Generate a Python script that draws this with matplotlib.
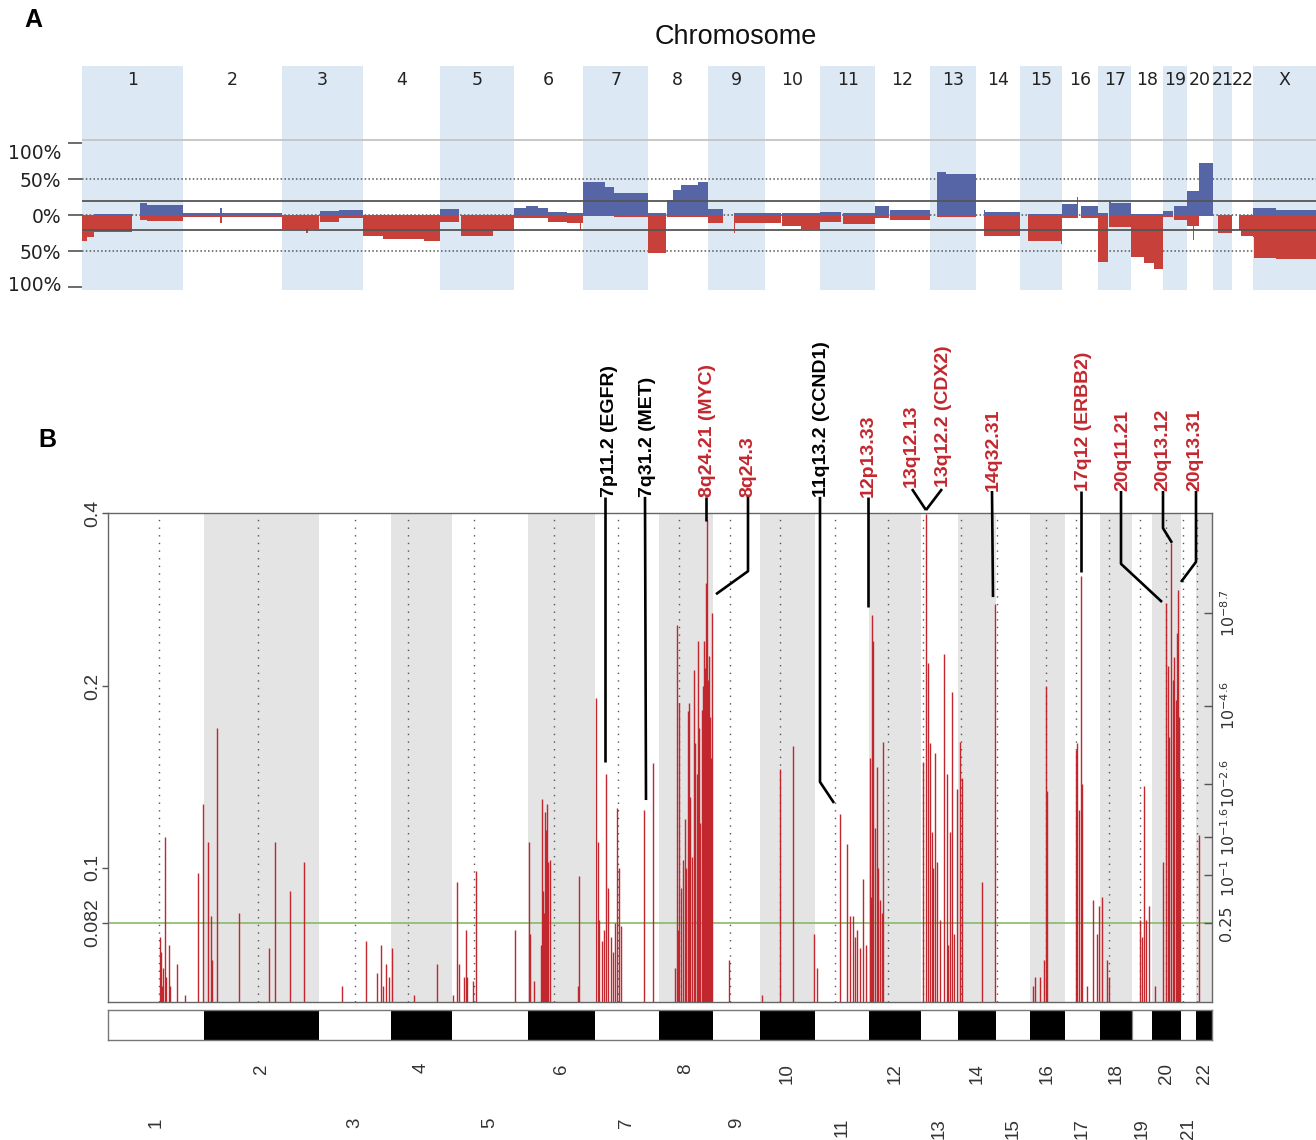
import matplotlib
matplotlib.use('Agg')
import matplotlib.pyplot as plt
import matplotlib.transforms as mtransforms
import numpy as np

plt.rcParams['font.family'] = ['DejaVu Sans']

W, H = 1316, 1140
fig = plt.figure(figsize=(W / 100, H / 100), dpi=100)


def fr(x0, y0, x1, y1):
    return [x0 / W, 1 - y1 / H, (x1 - x0) / W, (y1 - y0) / H]


# ---------------- Panel A data ----------------
chrA_names = [str(i) for i in range(1, 23)] + ['X']
chrA_len = [249, 243, 198, 191, 181, 171, 159, 146, 141, 136, 135, 134, 115,
            107, 103, 90, 81, 78, 59, 63, 48, 51, 155]

segA_chr = [1, 1, 1, 1, 1,
            2, 2, 2,
            3, 3, 3, 3, 3,
            4, 4, 4,
            5, 5, 5,
            6, 6, 6, 6, 6, 6, 6,
            7, 7, 7,
            8, 8, 8, 8, 8,
            9, 9, 9,
            10, 10, 10,
            11, 11,
            12, 12,
            13, 13,
            14, 14,
            15, 15,
            16, 16, 16,
            17, 17, 17,
            18, 18, 18,
            19, 19,
            20, 20, 20, 20,
            21,
            22, 22,
            23, 23, 23]
segA_start = [0, 12, 30, 143, 160,
              0, 90, 96,
              0, 58, 64, 93, 140,
              0, 50, 150,
              0, 50, 130,
              0, 30, 60, 84, 130, 163, 166,
              0, 54, 75,
              0, 47, 60, 80, 123,
              0, 66, 68,
              0, 42, 90,
              0, 55,
              0, 37,
              19, 40,
              19, 22,
              20, 100,
              0, 37, 46,
              0, 25, 32,
              0, 30, 55,
              0, 28,
              0, 14, 16, 30,
              14,
              16, 22,
              0, 3, 56]
segA_end = [12, 30, 124, 160, 249,
            90, 96, 243,
            58, 64, 90, 140, 198,
            50, 150, 191,
            47, 130, 181,
            30, 60, 84, 130, 163, 166, 171,
            54, 75, 159,
            43, 60, 80, 123, 146,
            39, 68, 141,
            40, 90, 136,
            50, 135,
            35, 134,
            40, 115,
            22, 107,
            100, 103,
            37, 39, 90,
            24, 32, 81,
            30, 55, 78,
            25, 59,
            14, 16, 29, 63,
            48,
            22, 51,
            3, 56, 155]
segA_gain = [1, 1, 2, 17, 14,
             3, 10, 4,
             1, 1, 1, 6, 7,
             1, 1, 1,
             9, 1, 1,
             11, 13, 10, 5, 3, 3, 4,
             47, 40, 31,
             3, 21, 35, 42, 47,
             9, 3, 4,
             4, 3, 3,
             5, 4,
             13, 8,
             61, 57,
             8, 5,
             2, 2,
             16, 26, 13,
             3, 20, 17,
             2, 2, 2,
             6, 13,
             34, 34, 34, 73,
             0,
             1, 1,
             11, 11, 8]
segA_loss = [-36, -30, -23, -6, -8,
             -2, -10, -2,
             -19, -25, -19, -9, -4,
             -29, -32, -35,
             -9, -28, -22,
             -3, -4, -4, -9, -10, -22, -10,
             -1, -1, -2,
             -52, -2, -2, -2, -2,
             -10, -25, -10,
             -10, -15, -19,
             -9, -12,
             -3, -6,
             -2, -2,
             -28, -28,
             -36, -40,
             -3, -3, -3,
             -64, -16, -16,
             -58, -66, -75,
             -2, -6,
             -15, -34, -15, -1,
             -24,
             -20, -29,
             -30, -59, -60]
yticksA = [-100, -50, 0, 50, 100]
yticklabelsA = ['100%', '50%', '0%', '50%', '100%']

# ---------------- Panel B data ----------------
chrB_names = [str(i) for i in range(1, 23)]
chrB_width = [96, 115, 72, 61, 76, 67, 64, 54, 47, 55, 54, 52, 37, 38, 34, 35,
              35, 32, 20, 29, 15, 16]
chrB_centromere = [51, 150, 247, 300, 366, 446, 510, 571, 622, 672, 727, 780,
                   815, 853, 889, 938, 968, 1000.5, 1032, 1058, 1075, 1089]

spike_pos = [52, 53, 54, 55, 57, 58, 61, 62, 69, 77, 90, 95,
             100, 103, 104, 109, 131, 161, 167, 182, 196,
             234, 258, 269, 273, 275, 278, 281,
             284, 306, 329,
             345, 349, 351, 356, 358, 359, 365, 368, 407,
             421, 422, 426, 433, 434, 435, 436, 437, 438, 439, 440, 442, 470, 471,
             488, 490, 491, 494, 496, 498, 500, 503, 505, 507, 509, 511, 513, 536, 545,
             567, 569, 570, 571, 573, 575, 577, 578, 580, 581, 582, 584, 586, 587,
             589, 590, 591, 592, 594, 595, 596, 597, 598, 599, 600, 601, 602, 603, 604,
             621,
             654, 672, 685, 706,
             709, 732, 739, 742, 745, 747, 749, 752, 755, 758,
             762, 763, 764, 765, 767, 769, 770, 772, 774, 775,
             815, 818, 820, 822, 824, 825, 827, 829, 832, 836, 839, 840, 842, 844, 846, 849,
             852, 854, 874, 887,
             925, 927, 932, 936, 938, 939,
             968, 969, 971, 973, 974, 979, 985, 989, 991,
             994, 999, 1001,
             1032, 1034, 1036, 1038, 1041,
             1047, 1055, 1058, 1060, 1061, 1063, 1065, 1066, 1068, 1069, 1070, 1071, 1072,
             1091]
spike_val = [0.078, 0.074, 0.066, 0.070, 0.112, 0.068, 0.076, 0.066, 0.071, 0.064, 0.098, 0.127,
             0.110, 0.084, 0.072, 0.170, 0.085, 0.075, 0.110, 0.092, 0.102,
             0.066, 0.077, 0.069, 0.076, 0.066, 0.071, 0.068,
             0.075, 0.064, 0.071,
             0.064, 0.095, 0.071, 0.068, 0.080, 0.068, 0.067, 0.099, 0.080,
             0.110, 0.079, 0.067, 0.076, 0.129, 0.092, 0.085, 0.123, 0.115, 0.127, 0.102, 0.103, 0.066, 0.097,
             0.191, 0.110, 0.083, 0.077, 0.080, 0.142, 0.093, 0.078, 0.074, 0.082, 0.125, 0.100, 0.081, 0.124, 0.148,
             0.070, 0.255, 0.080, 0.187, 0.093, 0.103, 0.120, 0.100, 0.181, 0.187, 0.130, 0.104, 0.213, 0.160,
             0.142, 0.239, 0.170, 0.118, 0.182, 0.200, 0.239, 0.215, 0.301, 0.389, 0.205, 0.225, 0.177, 0.151, 0.267,
             0.072,
             0.064, 0.145, 0.158, 0.079,
             0.070, 0.122, 0.109, 0.084, 0.084, 0.078, 0.080, 0.075, 0.096, 0.076,
             0.151, 0.090, 0.265, 0.239, 0.116, 0.146, 0.100, 0.089, 0.085, 0.161,
             0.149, 0.398, 0.219, 0.160, 0.114, 0.100, 0.154, 0.102, 0.083, 0.227, 0.142, 0.076, 0.114, 0.195, 0.079, 0.134,
             0.161, 0.140, 0.095, 0.277,
             0.066, 0.068, 0.068, 0.072, 0.200, 0.133,
             0.156, 0.160, 0.124, 0.310, 0.137, 0.066, 0.089, 0.079, 0.087,
             0.090, 0.072, 0.068,
             0.083, 0.078, 0.136, 0.083, 0.087,
             0.066, 0.102, 0.278, 0.216, 0.164, 0.354, 0.205, 0.224, 0.189, 0.247, 0.293, 0.177, 0.140,
             0.113]

threshold = 0.082
yticksB = [0.4, 0.2, 0.1, 0.082]
yticklabelsB = ['0.4', '0.2', '0.1', '0.082']
qticks = [0.267, 0.185, 0.137, 0.112, 0.0975, 0.082]
qticklabels = [r'$10^{-8.7}$', r'$10^{-4.6}$', r'$10^{-2.6}$', r'$10^{-1.6}$',
               r'$10^{-1}$', '0.25']

ann_text = ['7p11.2 (EGFR)', '7q31.2 (MET)', '8q24.21 (MYC)', '8q24.3',
            '11q13.2 (CCND1)', '12p13.33', '13q12.13', '13q12.2 (CDX2)',
            '14q32.31', '17q12 (ERBB2)', '20q11.21', '20q13.12', '20q13.31']
ann_is_red = [False, False, True, True, False, True, True, True, True, True,
              True, True, True]
ann_text_x = [501, 539, 600, 640, 714, 760, 803, 836, 885, 975, 1015, 1055, 1087]
ann_text_y = [1.033] * 6 + [1.053, 1.053] + [1.045] * 5
ann_path_x = [[497, 497], [537, 538], [598, 598], [640, 640, 608], [712, 712, 726],
              [760, 760], [804, 818], [834, 818], [884, 885], [973, 973],
              [1013, 1013, 1054], [1055, 1055, 1064], [1088, 1088, 1073]]
ann_path_y = [[1.033, 0.491], [1.033, 0.413], [1.033, 0.984], [1.033, 0.881, 0.834],
              [1.033, 0.450, 0.407], [1.033, 0.808], [1.049, 1.006], [1.049, 1.006],
              [1.045, 0.828], [1.045, 0.879], [1.045, 0.896, 0.818],
              [1.045, 0.969, 0.939], [1.045, 0.900, 0.859]]

RED = '#c3272e'
GAIN = '#5565a6'
LOSS = '#c8403a'
SANS = ['Liberation Sans', 'DejaVu Sans']

# ================= Panel A =================
axA = fig.add_axes(fr(82, 66, 1316, 290))
startsA = np.concatenate([[0], np.cumsum(chrA_len)[:-1]])
totalA = float(np.sum(chrA_len))
axA.set_xlim(0, totalA)
axA.set_ylim(-103.5, 207.6)
for i, (s, L) in enumerate(zip(startsA, chrA_len)):
    if i % 2 == 0:
        axA.axvspan(s, s + L, color='#dde8f5', lw=0, zorder=0)
    axA.text(s + L / 2, 188, chrA_names[i], ha='center', va='center',
             fontsize=12.5, color='#222')

seg_left = [startsA[c - 1] + s for c, s in zip(segA_chr, segA_start)]
seg_w = [e - s for s, e in zip(segA_start, segA_end)]
axA.bar(seg_left, segA_gain, width=seg_w, align='edge', color=GAIN, lw=0, zorder=3)
axA.bar(seg_left, segA_loss, width=seg_w, align='edge', color=LOSS, lw=0, zorder=3)

axA.axhline(105, color='#c4c4c4', lw=1.3, zorder=2)
for yv in (20, -20):
    axA.axhline(yv, color='#555555', lw=1.3, zorder=4)
for yv in (50, -50, 0):
    axA.axhline(yv, color='#555555', lw=1.1, ls=(0, (1, 1.5)), zorder=2)

for sp in axA.spines.values():
    sp.set_visible(False)
axA.set_xticks([])
axA.set_yticks(yticksA)
axA.set_yticklabels(yticklabelsA, fontsize=13.5, color='#222')
axA.tick_params(axis='y', length=10, width=1.1, color='#444', pad=5)
labs = axA.get_yticklabels()
labs[4].set_transform(labs[4].get_transform() +
                      mtransforms.ScaledTranslation(0, -8 / 100, fig.dpi_scale_trans))
labs[0].set_transform(labs[0].get_transform() +
                      mtransforms.ScaledTranslation(0, 4 / 100, fig.dpi_scale_trans))

fig.text(736 / W, 1 - 37 / H, 'Chromosome', ha='center', va='center',
         fontsize=19.5, family=SANS, color='#111')
fig.text(33 / W, 1 - 20 / H, 'A', ha='center', va='center', fontsize=18,
         fontweight='bold', family=SANS)
fig.text(47 / W, 1 - 440 / H, 'B', ha='center', va='center', fontsize=18,
         fontweight='bold', family=SANS)


# ================= Panel B =================
def fwd(v):
    return np.log10(np.maximum(np.asarray(v, dtype=float) - 0.013, 1e-6))


def inv(u):
    return 10 ** np.asarray(u, dtype=float) + 0.013


axB = fig.add_axes(fr(108, 513, 1212, 1002))
startsB = np.concatenate([[0], np.cumsum(chrB_width)[:-1]])
totalB = float(np.sum(chrB_width))
axB.set_xlim(0, totalB)
axB.set_yscale('function', functions=(fwd, inv))
axB.set_ylim(0.0625, 0.4)
for i, (s, L) in enumerate(zip(startsB, chrB_width)):
    if i % 2 == 1:
        axB.axvspan(s, s + L, color='#e4e4e4', lw=0, zorder=0)
for c in chrB_centromere:
    axB.axvline(c, color='#555555', lw=1.0, ls=(0, (1, 4.5)), zorder=1)
axB.axhline(threshold, color='#86ba6a', lw=1.2, zorder=2)
axB.vlines(spike_pos, 0.0625, spike_val, color=RED, lw=1.0, zorder=3)

axB.set_xticks([])
axB.set_yticks(yticksB)
axB.set_yticklabels(yticklabelsB, fontsize=14, color='#333', family=SANS)
axB.yaxis.set_minor_locator(matplotlib.ticker.NullLocator())
axB.tick_params(axis='y', length=4, width=1, color='#555', pad=0.5)
for lab in axB.get_yticklabels():
    lab.set_rotation(90)
    lab.set_va('center')
    lab.set_ha('right')
for sp in axB.spines.values():
    sp.set_color('#666666')
    sp.set_linewidth(1.0)

axR = axB.twinx()
axR.set_yscale('function', functions=(fwd, inv))
axR.set_ylim(0.0625, 0.4)
axR.set_yticks(qticks)
axR.set_yticklabels(qticklabels, fontsize=11.5, color='#333')
axR.yaxis.set_minor_locator(matplotlib.ticker.NullLocator())
axR.tick_params(axis='y', direction='in', length=6, width=1, color='#555', pad=5)
rlabs = axR.get_yticklabels()
for lab in rlabs:
    lab.set_rotation(90)
    lab.set_va('center')
    lab.set_ha('left')
rlabs[3].set_transform(rlabs[3].get_transform() +
                       mtransforms.ScaledTranslation(0, 6 / 100, fig.dpi_scale_trans))
rlabs[4].set_transform(rlabs[4].get_transform() +
                       mtransforms.ScaledTranslation(0, -3 / 100, fig.dpi_scale_trans))
for sp in axR.spines.values():
    sp.set_visible(False)

trB = mtransforms.blended_transform_factory(axB.transData, axB.transAxes)
for t, red, tx, ty, px, py in zip(ann_text, ann_is_red, ann_text_x, ann_text_y,
                                  ann_path_x, ann_path_y):
    col = RED if red else '#000000'
    axB.text(tx, ty, t, transform=trB, rotation=90, ha='center', va='bottom',
             fontsize=14, fontweight='bold', color=col, family=SANS, clip_on=False)
    axB.plot(px, py, transform=trB, color='black', lw=1.9, clip_on=False,
             solid_capstyle='butt', zorder=6)

# ================= Chromosome bar =================
axC = fig.add_axes(fr(108, 1010, 1212, 1040))
axC.set_xlim(0, totalB)
axC.set_ylim(0, 1)
for i, (s, L) in enumerate(zip(startsB, chrB_width)):
    if i % 2 == 1:
        axC.axvspan(s, s + L, color='black', lw=0)
axC.axvline(startsB[18], color='#888888', lw=0.9)
axC.set_xticks([])
axC.set_yticks([])
for sp in axC.spines.values():
    sp.set_color('#777777')
    sp.set_linewidth(1.0)
trC = mtransforms.blended_transform_factory(axC.transData, axC.transAxes)
for i, (s, L) in enumerate(zip(startsB, chrB_width)):
    yy = -0.77 if i % 2 == 1 else -2.6
    axC.text(s + L / 2, yy, chrB_names[i], transform=trC, rotation=90,
             ha='center', va='top', fontsize=13.5, color='#333', family=SANS,
             clip_on=False)

fig.savefig('out.png', dpi=100)
